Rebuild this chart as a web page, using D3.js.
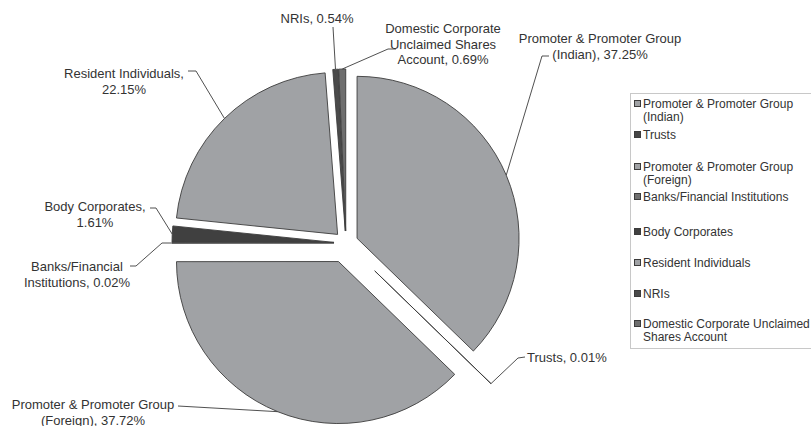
<!DOCTYPE html>
<html><head><meta charset="utf-8">
<script src="https://cdn.jsdelivr.net/npm/d3@7"></script>
<style>body{margin:0;background:#fff;} svg{display:block;} text{font-family:"Liberation Sans",Arial,sans-serif;fill:#333;}</style>
</head><body>
<svg id="c" width="811" height="426"></svg>
<script>
const categories = ["Promoter & Promoter Group (Indian)","Trusts","Promoter & Promoter Group (Foreign)","Banks/Financial Institutions","Body Corporates","Resident Individuals","NRIs","Domestic Corporate Unclaimed Shares Account"];
const values = [37.25, 0.01, 37.72, 0.02, 1.61, 22.15, 0.54, 0.69];
const valueLabels = ["37.25%","0.01%","37.72%","0.02%","1.61%","22.15%","0.54%","0.69%"];
const legendLines = [["Promoter & Promoter Group","(Indian)"],["Trusts"],["Promoter & Promoter Group","(Foreign)"],["Banks/Financial Institutions"],["Body Corporates"],["Resident Individuals"],["NRIs"],["Domestic Corporate Unclaimed","Shares Account"]];
const dataLabelLines = [["Promoter & Promoter Group","(Indian), 37.25%"],["Trusts, 0.01%"],["Promoter & Promoter Group","(Foreign), 37.72%"],["Banks/Financial","Institutions, 0.02%"],["Body Corporates,","1.61%"],["Resident Individuals,","22.15%"],["NRIs, 0.54%"],["Domestic Corporate","Unclaimed Shares","Account, 0.69%"]];

// styling / layout
const colors = ["#a0a2a5","#454545","#a0a2a5","#707070","#404040","#a0a2a5","#4a4a4a","#6e6e6e"];
const explode = [12, 40, 20, 12, 12, 12, 12, 12];
const cx = 346, cy = 243, R = 162;
const labelLayout = [
  {x:600, y:38, anchor:"middle", pts:[[549,56],[542,56]]},
  {x:527, y:357, anchor:"start", pts:[[525,357],[518,358]]},
  {x:93, y:404, anchor:"middle", pts:[[178,406]]},
  {x:77, y:266, anchor:"middle", pts:[[130,266],[136,266],[162,243]]},
  {x:95, y:206, anchor:"middle", pts:[[150,208],[156,208]]},
  {x:124, y:73, anchor:"middle", pts:[[188,71],[196,71]]},
  {x:317, y:18, anchor:"middle", pts:[[333,27]]},
  {x:443, y:28, anchor:"middle", pts:[[396,49],[388,49]]}
];

const svg = d3.select("#c");
const pie = d3.pie().sort(null).value(d => d).startAngle(0).endAngle(2*Math.PI);
const arcs = pie(values);
const arc = d3.arc().innerRadius(0).outerRadius(R);

const g = svg.append("g").attr("transform", `translate(${cx},${cy})`);
const off = (a, i) => { const m = (a.startAngle + a.endAngle)/2; return [explode[i]*Math.sin(m), -explode[i]*Math.cos(m)]; };

g.selectAll("path.slice").data(arcs).join("path")
  .attr("class","slice")
  .attr("transform", (a,i) => { const o = off(a,i); return `translate(${o[0]},${o[1]})`; })
  .attr("d", arc)
  .attr("fill", (a,i) => colors[i])
  .attr("stroke", "#3c3c3c").attr("stroke-width", 0.9).attr("stroke-linejoin","round");

arcs.forEach((a, i) => {
  const m = (a.startAngle + a.endAngle)/2;
  const o = off(a, i);
  const sx = cx + o[0] + R*Math.sin(m), sy = cy + o[1] - R*Math.cos(m);
  const pts = labelLayout[i].pts.concat([[sx, sy]]);
  svg.append("path").attr("d", d3.line()(pts)).attr("fill","none").attr("stroke","#3c3c3c").attr("stroke-width",0.9);
});

dataLabelLines.forEach((lines, i) => {
  const L = labelLayout[i];
  const t = svg.append("text").attr("text-anchor", L.anchor).attr("font-size", "13px").attr("dominant-baseline","central");
  lines.forEach((ln, k) => t.append("tspan").attr("x", L.x).attr("y", L.y + k*15.5).text(ln));
});

const lg = svg.append("g");
lg.append("rect").attr("x", 630.5).attr("y", 93.5).attr("width", 200).attr("height", 255)
  .attr("fill","#fff").attr("stroke","#c8c8c8").attr("stroke-width",1);
const legendY = [104, 135, 167, 197, 232, 263, 294, 324];
categories.forEach((c, i) => {
  lg.append("rect").attr("x", 634.5).attr("y", legendY[i]-3.5).attr("width", 6).attr("height", 6)
    .attr("fill", colors[i]).attr("stroke", "#3c3c3c").attr("stroke-width", 1);
  const t = lg.append("text").attr("font-size","12px").attr("dominant-baseline","central");
  legendLines[i].forEach((ln, k) => t.append("tspan").attr("x", 643).attr("y", legendY[i] + k*13).text(ln));
});
</script>
</body></html>
